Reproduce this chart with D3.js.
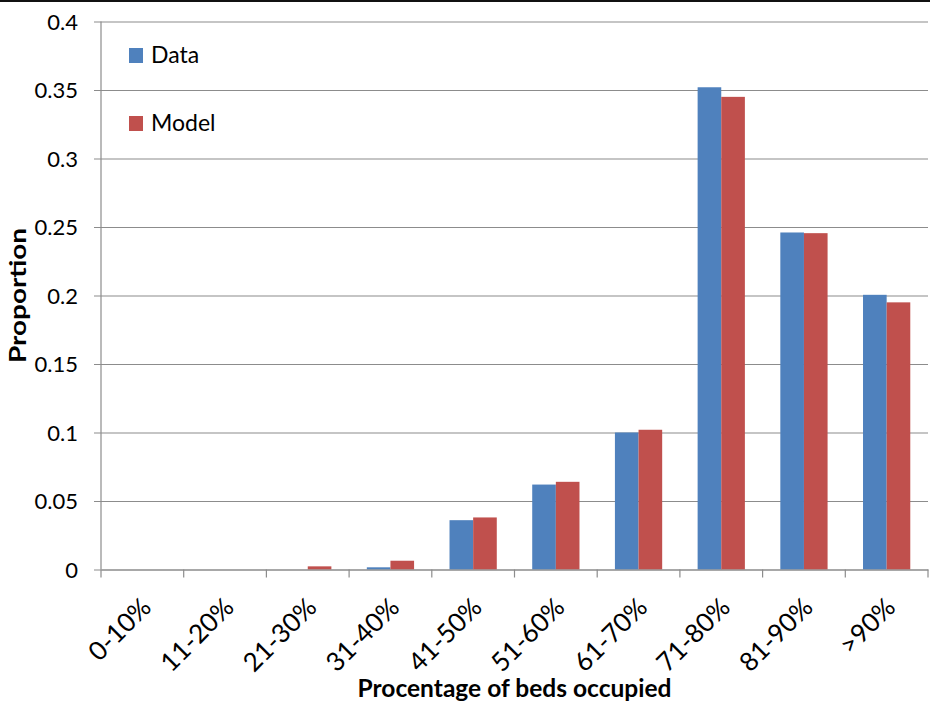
<!DOCTYPE html>
<html>
<head>
<meta charset="utf-8">
<script src="https://cdn.jsdelivr.net/npm/d3@7"></script>
<style>
  html, body { margin: 0; padding: 0; background: #fff; }
  svg { display: block; }
  text { font-family: Lato, "Open Sans", sans-serif; fill: #000; }
</style>
</head>
<body>
<svg id="chart" width="930" height="710"></svg>
<script>
// Occupancy bands and the observed vs. modelled share of days in each band
const categories = ["0-10%", "11-20%", "21-30%", "31-40%", "41-50%", "51-60%", "61-70%", "71-80%", "81-90%", ">90%"];
const dataValues = [0, 0, 0, 0.0016, 0.036, 0.062, 0.100, 0.352, 0.246, 0.2005];
const modelValues = [0, 0, 0.0023, 0.0064, 0.038, 0.064, 0.102, 0.345, 0.2455, 0.195];
const seriesNames = ["Data", "Model"];
const yTicks = [0, 0.05, 0.1, 0.15, 0.2, 0.25, 0.3, 0.35, 0.4];

const colors = { Data: "#4F81BD", Model: "#C0504D" };
const svg = d3.select("#chart");

const margin = { left: 101, right: 2, top: 21.5, bottom: 140.5 };
const width = 930, height = 710;
const x0 = margin.left, x1 = width - margin.right;
const yTop = margin.top, yBottom = height - margin.bottom;

// category bands; each pair of bars is centred with a 150% gap width
const x = d3.scaleBand().domain(categories).range([x0, x1]).paddingInner(0).paddingOuter(0);
const xs = d3.scaleBand().domain(seriesNames).range([0, x.bandwidth()]).paddingInner(0).paddingOuter(0.75);
const y = d3.scaleLinear().domain([0, 0.4]).range([yBottom, yTop]);

// dark rule along the top edge
svg.append("rect").attr("x", 0).attr("y", 0).attr("width", width).attr("height", 2).attr("fill", "#111");

// horizontal gridlines with short outward ticks
const yAxis = d3.axisLeft(y).tickValues(yTicks).tickSize(-(x1 - x0)).tickPadding(16)
  .tickFormat(d => d === 0 ? "0" : String(+d.toFixed(2)));
const gy = svg.append("g").attr("transform", `translate(${x0},0)`).call(yAxis);
gy.select(".domain").remove();
gy.selectAll(".tick line").attr("x1", -7).attr("stroke", "#8c8c8c").attr("stroke-width", 1.2);
gy.selectAll(".tick text").attr("font-size", 22).attr("x", -23).attr("dy", "0.35em");

// vertical axis line
svg.append("line").attr("x1", x0).attr("x2", x0).attr("y1", yTop).attr("y2", yBottom)
  .attr("stroke", "#8c8c8c").attr("stroke-width", 1.2);

// bars
const rows = categories.map((c, i) => ({ cat: c, Data: dataValues[i], Model: modelValues[i] }));
const groups = svg.append("g").selectAll("g").data(rows).join("g")
  .attr("transform", d => `translate(${x(d.cat)},0)`);
groups.selectAll("rect").data(d => seriesNames.map(s => ({ s, v: d[s] }))).join("rect")
  .attr("x", d => xs(d.s))
  .attr("width", xs.bandwidth())
  .attr("y", d => y(d.v))
  .attr("height", d => y(0) - y(d.v))
  .attr("fill", d => colors[d.s]);

// category axis
const xAxis = d3.axisBottom(x).tickSize(0).tickFormat(d => d);
const gx = svg.append("g").attr("transform", `translate(0,${yBottom})`).call(xAxis);
gx.select(".domain").attr("stroke", "#8c8c8c").attr("stroke-width", 1.2);
gx.selectAll(".tick text")
  .attr("font-size", 26)
  .attr("text-anchor", "end")
  .attr("transform", "translate(4,33) rotate(-45)")
  .attr("x", 0).attr("y", 0).attr("dy", "0.35em");
// boundary tick marks between categories
const bounds = categories.map(c => x(c)).concat([x1]);
svg.append("g").selectAll("line").data(bounds).join("line")
  .attr("x1", d => d).attr("x2", d => d)
  .attr("y1", yBottom).attr("y2", yBottom + 8)
  .attr("stroke", "#8c8c8c").attr("stroke-width", 1.2);

// axis titles
svg.append("text").attr("x", (x0 + x1) / 2).attr("y", 697).attr("text-anchor", "middle")
  .attr("font-size", 25).attr("font-weight", "bold")
  .attr("textLength", 314).attr("lengthAdjust", "spacingAndGlyphs")
  .text("Procentage of beds occupied");
svg.append("text").attr("transform", `translate(26,${(yTop + yBottom) / 2}) rotate(-90)`)
  .attr("text-anchor", "middle").attr("font-size", 23).attr("font-weight", "bold")
  .attr("textLength", 135).attr("lengthAdjust", "spacingAndGlyphs")
  .text("Proportion");

// legend
const legend = svg.append("g").selectAll("g").data(seriesNames).join("g")
  .attr("transform", (d, i) => `translate(129,${48 + i * 68})`);
legend.append("rect").attr("width", 14).attr("height", 15).attr("fill", d => colors[d]);
legend.append("text").attr("x", 22).attr("y", 15).attr("font-size", 23).text(d => d);
</script>
</body>
</html>
